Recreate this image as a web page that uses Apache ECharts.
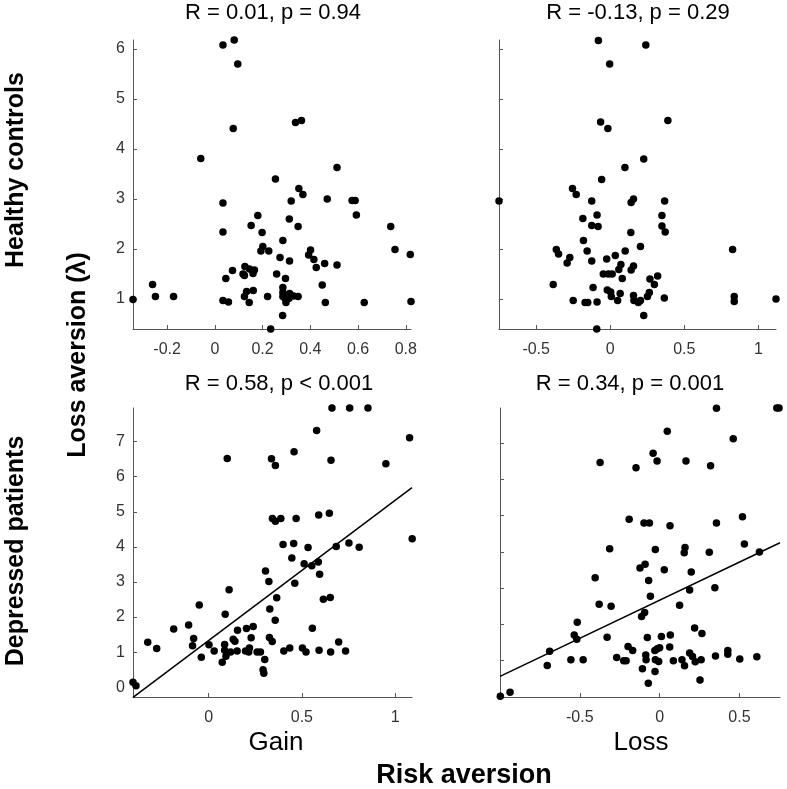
<!DOCTYPE html>
<html>
<head>
<meta charset="utf-8">
<script src="https://cdn.jsdelivr.net/npm/echarts@6/dist/echarts.min.js"></script>
<style>
html,body{margin:0;padding:0;background:#fff;}
#chart{width:787px;height:789px;}
</style>
</head>
<body>
<div id="chart"></div>
<script>
// ---------- Data ----------
const panelTitles = ['R = 0.01, p = 0.94', 'R = -0.13, p = 0.29', 'R = 0.58, p < 0.001', 'R = 0.34, p = 0.001'];
const rowLabels = ['Healthy controls', 'Depressed patients'];
const colLabels = ['Gain', 'Loss'];
const yAxisTitle = 'Loss aversion (λ)';
const xAxisTitle = 'Risk aversion';

// Healthy controls, gain
const hcGainX = [0.034,0.081,0.096,0.077,0.338,0.363,-0.059,0.512,0.254,0.352,0.369,0.034,0.32,0.471,0.575,0.588,0.593,0.180,0.152,0.312,0.349,0.737,0.034,0.198,0.285,0.201,0.193,0.226,0.401,0.393,0.755,0.819,0.273,0.313,0.415,0.46,0.512,0.425,0.074,0.126,0.145,0.166,0.118,0.124,0.16,0.259,0.046,0.296,0.45,-0.261,0.285,0.133,0.161,0.285,0.285,0.293,0.313,0.33,0.31,0.349,-0.249,-0.173,-0.343,0.034,0.057,0.124,0.144,0.221,0.298,0.463,0.626,0.822,0.284,0.234];
const hcGainY = [6.08,6.18,5.70,4.41,4.53,4.57,3.81,3.63,3.40,3.21,3.09,2.92,2.96,3.00,2.97,2.97,2.68,2.67,2.47,2.60,2.45,2.45,2.34,2.33,2.17,2.05,1.96,1.96,1.98,1.88,1.99,1.89,1.83,1.76,1.79,1.71,1.68,1.63,1.57,1.65,1.60,1.58,1.50,1.47,1.51,1.50,1.41,1.41,1.28,1.29,1.23,1.15,1.17,1.13,1.05,1.02,1.11,1.06,1.01,1.05,1.05,1.05,0.99,0.97,0.94,1.05,0.93,1.05,0.93,0.93,0.93,0.95,0.67,0.40];

// Healthy controls, loss
const hcLossX = [-0.080,0.240,-0.004,-0.065,-0.016,0.389,0.226,0.099,-0.058,-0.255,-0.230,-0.751,-0.125,0.141,0.157,0.367,-0.089,0.349,-0.185,-0.125,-0.082,0.349,0.371,0.139,-0.181,-0.364,-0.349,-0.156,0.101,0.204,0.826,0.034,-0.024,-0.273,-0.291,-0.125,0.072,0.058,0.157,0.141,-0.047,-0.013,0.013,0.081,0.268,0.32,0.298,-0.385,-0.116,-0.02,0.003,0.067,0.007,0.264,0.251,0.157,0.16,-0.25,-0.17,-0.152,-0.089,0.05,0.204,0.19,0.365,0.837,0.837,1.119,0.226,-0.091];
const hcLossY = [6.17,6.08,5.70,4.54,4.41,4.57,3.80,3.63,3.39,3.21,3.09,2.96,2.96,2.93,3.00,2.96,2.68,2.67,2.61,2.47,2.45,2.46,2.34,2.33,2.17,1.99,1.90,1.96,1.96,2.05,1.99,1.87,1.80,1.83,1.72,1.76,1.69,1.59,1.66,1.58,1.50,1.50,1.50,1.41,1.40,1.46,1.29,1.29,1.23,1.18,1.14,1.11,1.05,1.13,1.05,1.07,0.97,0.97,0.93,0.93,0.94,0.97,0.97,0.93,1.02,1.05,0.95,1.00,0.67,0.40];

// Depressed patients, gain
const mddGainX = [0.661,0.756,0.854,0.579,1.077,0.458,0.1,0.337,0.358,0.656,0.95,0.342,0.358,0.387,0.469,0.59,0.647,1.091,0.399,0.456,0.533,0.684,0.752,0.807,0.446,0.512,0.588,0.553,0.595,0.305,0.323,0.462,0.11,0.365,0.615,0.652,-0.05,0.328,0.089,0.357,-0.107,-0.187,0.556,0.155,0.203,0.239,-0.08,0.132,0.141,0.228,0.326,0.341,-0.326,-0.278,-0.086,0.002,0.086,0.697,0.03,-0.039,0.086,0.093,0.073,0.118,0.153,0.198,0.219,0.215,0.26,0.278,0.301,0.292,0.296,0.403,0.435,0.503,0.522,0.592,0.654,0.734,-0.405,-0.389];
const mddGainY = [7.96,7.96,7.96,7.32,7.11,6.71,6.52,6.51,6.32,6.47,6.37,4.81,4.73,4.81,4.81,4.91,4.96,4.23,4.07,4.10,3.98,4.01,4.11,3.99,3.68,3.52,3.57,3.46,3.22,3.31,3.01,2.96,2.78,2.55,2.51,2.56,2.34,2.23,2.08,1.91,1.77,1.66,1.68,1.62,1.67,1.73,1.39,1.37,1.31,1.41,1.42,1.30,1.28,1.10,1.18,1.21,1.22,1.29,1.03,0.85,1.05,0.88,0.71,1.00,1.03,1.03,1.12,1.00,1.00,1.00,0.79,0.50,0.40,1.03,1.12,1.12,1.00,1.05,1.00,1.03,0.14,0.04];

// Depressed patients, loss
const mddLossX = [0.356,0.734,0.748,0.048,0.461,-0.041,-0.016,-0.373,-0.148,0.165,0.319,-0.191,-0.098,-0.064,0.065,0.356,0.519,0.531,0.625,-0.313,-0.027,0.159,0.154,0.311,-0.123,-0.091,0.029,0.198,-0.404,-0.069,0.188,0.346,-0.058,-0.379,-0.304,0.125,-0.094,-0.113,-0.516,-0.535,-0.519,0.219,0.265,-0.329,-0.077,0.011,0.067,0.063,-0.198,-0.169,0.0,-0.015,-0.03,-0.689,-0.704,-0.556,-0.479,-0.269,-0.225,-0.21,-0.087,-0.085,-0.027,-0.006,0.086,0.14,0.156,0.188,0.206,0.223,0.26,0.35,0.427,0.427,0.502,0.609,-0.108,-0.029,0.253,-0.071,-0.937,-0.998];
const mddLossY = [7.96,7.97,7.97,7.33,7.12,6.72,6.51,6.47,6.32,6.51,6.38,4.90,4.80,4.80,4.72,4.80,4.97,4.22,4.00,4.09,4.07,4.12,3.98,3.99,3.56,3.66,3.51,3.45,3.29,3.21,2.95,3.01,2.78,2.56,2.50,2.53,2.33,2.22,2.06,1.71,1.59,1.90,1.75,1.65,1.64,1.67,1.71,1.38,1.39,1.28,1.36,1.33,1.28,1.26,0.87,1.03,1.03,1.09,1.00,1.00,1.16,1.03,1.03,0.98,1.00,1.03,0.86,1.21,1.12,0.97,1.03,1.13,1.28,1.18,1.05,1.11,0.78,0.70,0.47,0.38,0.13,0.02];

// Least-squares lines [intercept, slope] as drawn in the reference (patients only)
const mddGainFit = [1.33, 4.0];
const mddLossFit = [2.67, 2.10];

// Axis ranges [xmin, xmax, ymin, ymax]
const hcGainRange = [-0.343, 0.822, 0.40, 6.18];
const hcLossRange = [-0.751, 1.119, 0.40, 6.18];
const mddGainRange = [-0.405, 1.09, -0.28, 7.96];
const mddLossRange = [-1.0, 0.754, 0.0, 7.97];

// Tick values
const hcGainXTicks = [-0.2, 0, 0.2, 0.4, 0.6, 0.8];
const hcLossXTicks = [-0.5, 0, 0.5, 1];
const hcYTicks = [1, 2, 3, 4, 5, 6];
const mddGainXTicks = [0, 0.5, 1];
const mddLossXTicks = [-0.5, 0, 0.5];
const mddYTicks = [0, 1, 2, 3, 4, 5, 6, 7];

// ---------- Chart ----------
const FONT = 'Liberation Sans, Arial, sans-serif';
const AXIS_COLOR = '#555';
const LABEL_COLOR = '#333';

function zip(xs, ys) { return xs.map((x, i) => [x, ys[i]]); }

const panels = [
  {x: hcGainX, y: hcGainY, r: hcGainRange, xt: hcGainXTicks, yt: hcYTicks, showY: true, fit: null,
   grid: {left: 133, top: 40, width: 278, height: 289}},
  {x: hcLossX, y: hcLossY, r: hcLossRange, xt: hcLossXTicks, yt: hcYTicks, showY: false, fit: null,
   grid: {left: 499, top: 40, width: 277, height: 289}},
  {x: mddGainX, y: mddGainY, r: mddGainRange, xt: mddGainXTicks, yt: mddYTicks, showY: true, fit: mddGainFit,
   grid: {left: 133, top: 408, width: 279, height: 289}},
  {x: mddLossX, y: mddLossY, r: mddLossRange, xt: mddLossXTicks, yt: mddYTicks, showY: false, fit: mddLossFit,
   grid: {left: 500, top: 408, width: 280, height: 289}}
];

const grids = [], xAxes = [], yAxes = [], series = [];
panels.forEach((p, i) => {
  grids.push(Object.assign({containLabel: false}, p.grid));
  xAxes.push({
    type: 'value', gridIndex: i, min: p.r[0], max: p.r[1],
    axisLine: {show: true, onZero: false, lineStyle: {color: AXIS_COLOR, width: 1}},
    axisTick: {show: true, inside: true, length: 4, customValues: p.xt, lineStyle: {color: AXIS_COLOR}},
    axisLabel: {show: true, customValues: p.xt, margin: 13, fontSize: 16, fontFamily: FONT, color: LABEL_COLOR,
      formatter: v => String(v)},
    splitLine: {show: false}
  });
  yAxes.push({
    type: 'value', gridIndex: i, min: p.r[2], max: p.r[3],
    axisLine: {show: true, onZero: false, lineStyle: {color: AXIS_COLOR, width: 1}},
    axisTick: {show: true, inside: true, length: 4, customValues: p.yt, lineStyle: {color: AXIS_COLOR}},
    axisLabel: {show: p.showY, customValues: p.yt, margin: 8, fontSize: 16, fontFamily: FONT, color: LABEL_COLOR,
      formatter: v => String(v)},
    splitLine: {show: false}
  });
  series.push({
    type: 'scatter', xAxisIndex: i, yAxisIndex: i, data: zip(p.x, p.y),
    symbol: 'circle', symbolSize: 7.5, itemStyle: {color: '#000', opacity: 1}, clip: false, silent: true,
    z: 3
  });
  if (p.fit) {
    const f = p.fit;
    series.push({
      type: 'line', xAxisIndex: i, yAxisIndex: i,
      data: [[p.r[0], f[0] + f[1] * p.r[0]], [p.r[1], f[0] + f[1] * p.r[1]]],
      symbol: 'none', lineStyle: {color: '#000', width: 1.5}, clip: false, silent: true, z: 2
    });
  }
});

const titlePos = [[273, 13], [638, 13], [279, 384], [630, 384]];
const graphics = [];
panelTitles.forEach((t, i) => {
  graphics.push({type: 'text', x: titlePos[i][0], y: titlePos[i][1],
    style: {text: t, font: '22px ' + FONT, fill: '#000', textAlign: 'center', textVerticalAlign: 'middle',
      align: 'center', verticalAlign: 'middle'}});
});
function rotText(t, x, y, font) {
  return {type: 'text', x: x, y: y, rotation: Math.PI / 2,
    style: {text: t, font: font, fill: '#000', textAlign: 'center', textVerticalAlign: 'middle',
      align: 'center', verticalAlign: 'middle'}};
}
graphics.push(rotText(rowLabels[0], 16, 170, 'bold 25px ' + FONT));
graphics.push(rotText(rowLabels[1], 16, 551, 'bold 25px ' + FONT));
graphics.push(rotText(yAxisTitle, 78, 355, 'bold 25px ' + FONT));
function hText(t, x, y, font) {
  return {type: 'text', x: x, y: y,
    style: {text: t, font: font, fill: '#000', textAlign: 'center', textVerticalAlign: 'middle',
      align: 'center', verticalAlign: 'middle'}};
}
graphics.push(hText(colLabels[0], 276, 743, '26px ' + FONT));
graphics.push(hText(colLabels[1], 641, 743, '26px ' + FONT));
graphics.push(hText(xAxisTitle, 464, 776, 'bold 27px ' + FONT));

const chart = echarts.init(document.getElementById('chart'), null, {renderer: 'canvas'});
chart.setOption({
  animation: false,
  backgroundColor: '#fff',
  grid: grids,
  xAxis: xAxes,
  yAxis: yAxes,
  series: series,
  graphic: graphics
});
</script>
</body>
</html>
